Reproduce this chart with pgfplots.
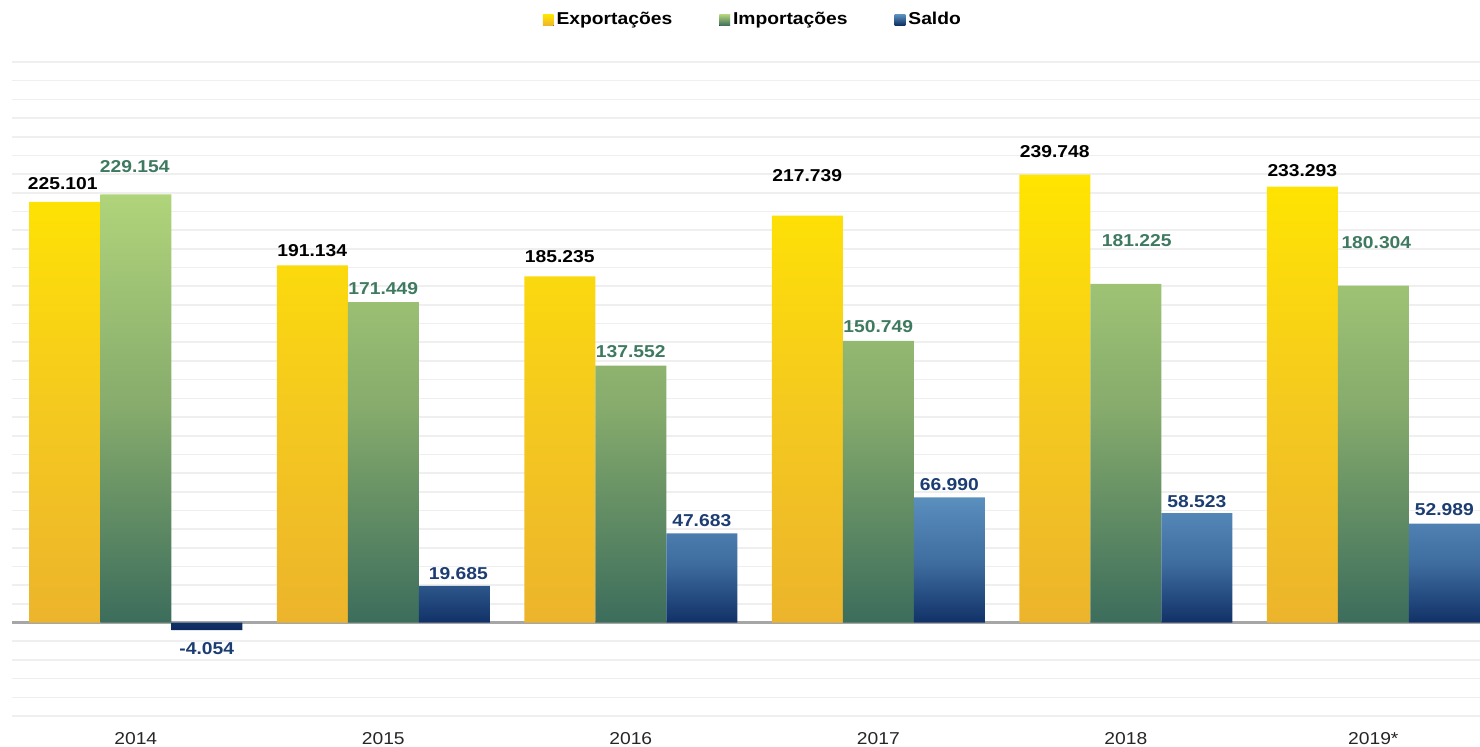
\documentclass[border=0pt]{standalone}
\usepackage{fontspec}
\setmainfont{Liberation Sans}[FakeStretch=1.12]
\usepackage{pgfplots}
\usepackage{pgfplotstable}
\pgfplotsset{compat=1.18}

\definecolor{yelTop}{HTML}{FFE500}
\definecolor{yelMid}{HTML}{F5CA1E}
\definecolor{yelBot}{HTML}{ECB42C}
\definecolor{grnTop}{HTML}{B0D47A}
\definecolor{grnMid}{HTML}{86AB6C}
\definecolor{grnBot}{HTML}{3C6D5C}
\definecolor{bluTop}{HTML}{5A8FBE}
\definecolor{bluMid}{HTML}{3E6C9F}
\definecolor{bluBot}{HTML}{0B2A60}
\definecolor{grnLab}{HTML}{3E7A60}
\definecolor{bluLab}{HTML}{1C3D72}
\definecolor{gridc}{HTML}{EFEFEF}

% x, value, label offset (pt), label x offset (pt, includes bar shift)
\pgfplotstableread{
x y dy dx
0 225.101 9.0 -36.5
1 191.134 7.5 -35.5
2 185.235 10.0 -35.5
3 217.739 20.0 -35.5
4 239.748 11.5 -35.5
5 233.293 8.0 -35.5
}\exports
\pgfplotstableread{
x y dy dx
0 229.154 14.0 -0.5
1 171.449 7.0 0
2 137.552 7.0 0
3 150.749 7.0 0
4 181.225 21.5 5.5
5 180.304 21.5 1.5
}\imports
\pgfplotstableread{
x y dy dx
0 -4.054 -9.0 35.5
1 19.685 6.0 37.5
2 47.683 6.5 35.5
3 66.990 6.5 35.5
4 58.523 6.0 35.5
5 52.989 7.0 35.5
}\saldo

\begin{document}
\begin{tikzpicture}
\begin{axis}[
    at={(0,0)}, anchor=south west,
    scale only axis,
    width=734pt, height=327pt,
    xmin=-0.5, xmax=5.431,
    ymin=-50, ymax=300,
    axis line style={draw=none},
    major tick style={draw=none},
    ytick={-50,-40,...,300},
    yticklabels={},
    ymajorgrids,
    major grid style={color=gridc, line width=0.8pt},
    extra y ticks={0},
    extra y tick labels={},
    extra y tick style={grid=major, major grid style={color=black!35, line width=1.1pt}},
    xtick={0,...,5},
    xticklabels={2014,2015,2016,2017,2018,2019*},
    xticklabel style={font=\fontsize{8.6}{10}\selectfont, text=black!85, yshift=-4.8pt},
    bar width=35.5pt,
    point meta=y,
    nodes near coords,
    visualization depends on={\thisrow{dy} \as \dy},
    visualization depends on={\thisrow{dx} \as \dx},
    every node near coord/.append style={font=\fontsize{8.6}{10}\selectfont\bfseries,
        anchor=center, inner sep=0pt, yshift=\dy pt, xshift=\dx pt},
    /pgf/number format/.cd, fixed, fixed zerofill, precision=3, use period,
        1000 sep={}, assume math mode=true,
    /pgfplots/.cd,
    legend columns=3,
    legend style={draw=none, fill=none, at={(0.505,1.064)}, anchor=center,
        font=\fontsize{8.6}{10}\selectfont\bfseries,
        /tikz/every even column/.append style={column sep=22pt},
        nodes={inner sep=1.5pt}},
]
\addplot[ybar, bar shift=-35.5pt, draw=none,
    top color=yelTop, bottom color=yelBot, middle color=yelMid,
    every node near coord/.append style={text=black},
    legend image code/.code={\fill[top color=yelTop, bottom color=yelBot] (0pt,-2.8pt) rectangle (5.4pt,2.8pt);}]
    table[x=x, y=y] {\exports};
\addlegendentry{Exportações}
\addplot[ybar, bar shift=0pt, draw=none,
    top color=grnTop, bottom color=grnBot, middle color=grnMid,
    every node near coord/.append style={text=grnLab},
    legend image code/.code={\fill[top color=grnTop, bottom color=grnBot] (0pt,-2.8pt) rectangle (5.4pt,2.8pt);}]
    table[x=x, y=y] {\imports};
\addlegendentry{Importações}
\addplot[ybar, bar shift=35.5pt, draw=none,
    top color=bluTop, bottom color=bluBot, middle color=bluMid,
    every node near coord/.append style={text=bluLab},
    legend image code/.code={\fill[top color=bluTop, bottom color=bluBot] (0pt,-2.8pt) rectangle (5.4pt,2.8pt);}]
    table[x=x, y=y] {\saldo};
\addlegendentry{Saldo}
\end{axis}
\pgfresetboundingbox
\useasboundingbox (-6pt,-15.5pt) rectangle (734pt,358pt);
\end{tikzpicture}
\end{document}
